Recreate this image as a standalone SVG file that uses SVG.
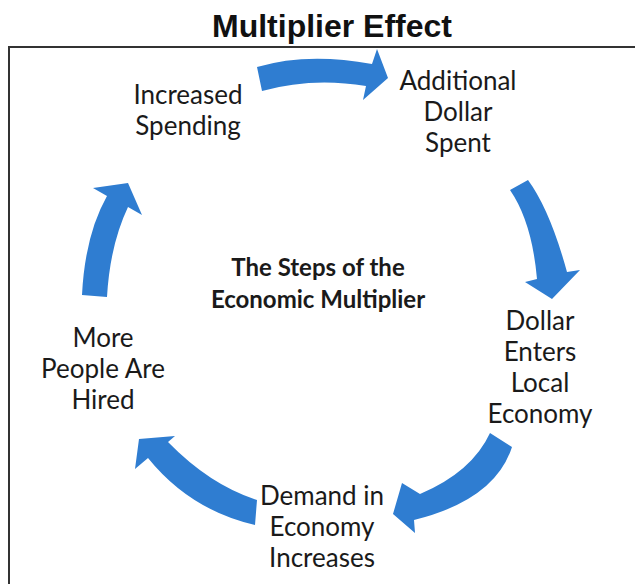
<svg xmlns="http://www.w3.org/2000/svg" width="635" height="584" viewBox="0 0 635 584">
<style>
.t{font-family:Lato,"Open Sans","Liberation Sans",sans-serif;font-size:26px;fill:#1a1a1a;text-anchor:middle}
.c{font-family:Lato,"Open Sans","Liberation Sans",sans-serif;font-size:24px;font-weight:bold;fill:#1a1a1a;text-anchor:middle}
.title{font-family:"Liberation Sans",Arial,sans-serif;font-size:32px;font-weight:bold;fill:#111;text-anchor:middle}
.arr{fill:#2F7DD1}
</style>
<rect width="635" height="584" fill="#fff"/>
<text class="title" x="332" y="37">Multiplier Effect</text>
<rect x="9" y="47" width="640" height="560" fill="none" stroke="#333" stroke-width="2"/>
<g id="connectors">
<path class="arr" d="M257,67 Q307,52 372,64 L377,49 L388,78 L363,100 L366,86 Q312,77 262,91 Z"/>
<path class="arr" d="M528,180 Q550,210 567,272 L580,270 L552,299 L525,282 L537,279 Q532,222 510,190 Z"/>
<path class="arr" d="M512,447 Q495,500 414,520 L415,533 L393,514 L402,483 L420,494 Q472,472 490,433 Z"/>
<path class="arr" d="M257,500 Q210,485 168,442 L175,436 L139,439 L135,469 L148,458 Q190,510 255,525 Z"/>
<path class="arr" d="M82,295 Q85,235 107,196 L93,188 L128,183 L142,215 L128,207 Q110,245 107,297 Z"/>
</g>
<g id="increased-spending">
<text class="t" x="188" y="104">Increased</text>
<text class="t" x="188" y="135">Spending</text>
</g>
<g id="additional-dollar-spent">
<text class="t" x="458" y="90">Additional</text>
<text class="t" x="458" y="121">Dollar</text>
<text class="t" x="458" y="152">Spent</text>
</g>
<g id="dollar-enters-local-economy">
<text class="t" x="540" y="330">Dollar</text>
<text class="t" x="540" y="361">Enters</text>
<text class="t" x="540" y="392">Local</text>
<text class="t" x="540" y="423">Economy</text>
</g>
<g id="demand-increases">
<text class="t" x="322" y="505">Demand in</text>
<text class="t" x="322" y="536">Economy</text>
<text class="t" x="322" y="567">Increases</text>
</g>
<g id="more-people-hired">
<text class="t" x="103" y="347">More</text>
<text class="t" x="103" y="378">People Are</text>
<text class="t" x="103" y="409">Hired</text>
</g>
<g id="center">
<text class="c" x="318" y="276">The Steps of the</text>
<text class="c" x="318" y="308">Economic Multiplier</text>
</g>
</svg>
